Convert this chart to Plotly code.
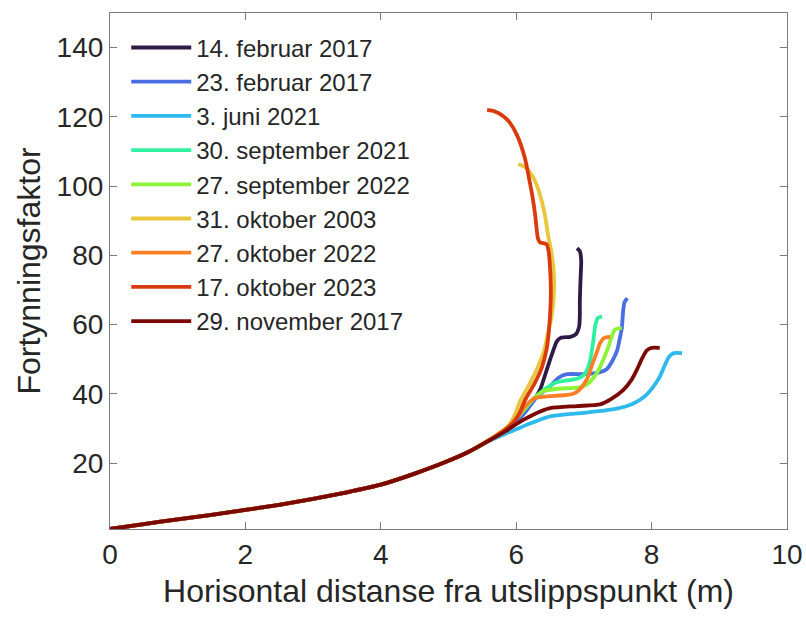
import plotly.graph_objects as go

# Shared near-field trunk of the dilution curves (x in m, dilution factor)
TRUNK_X = [0, 0.5, 1.0, 1.5, 2.0, 2.5, 3.0, 3.5, 4.0, 4.5, 5.0, 5.3]
TRUNK_Y = [1, 2.4, 3.8, 5.1, 6.5, 8.0, 9.7, 11.6, 13.8, 17.0, 20.7, 23.3]

LABELS = [
    "14. februar 2017",
    "23. februar 2017",
    "3. juni 2021",
    "30. september 2021",
    "27. september 2022",
    "31. oktober 2003",
    "27. oktober 2022",
    "17. oktober 2023",
    "29. november 2017",
]

COLORS = [
    "#2f1a48", "#4a6ee3", "#2fb9ec", "#2ff0a0", "#8df43a",
    "#eac63c", "#fa7f26", "#da3b0e", "#7a0805",
]

# Individual far-field branches for each date
FEB14_X = [5.55, 5.8, 6.06, 6.25, 6.35, 6.45, 6.55, 6.6, 6.66, 6.8, 6.88, 6.93, 6.94, 6.94, 6.95, 6.96, 6.94, 6.9]
FEB14_Y = [26, 29, 33.3, 38, 41.1, 46.9, 52.7, 55.2, 56.2, 56.5, 57.2, 59.5, 63, 67, 73, 78.5, 81.2, 82.1]

FEB23_X = [5.55, 5.8, 6.1, 6.3, 6.5, 6.62, 6.75, 7.0, 7.24, 7.34, 7.42, 7.49, 7.53, 7.56, 7.58, 7.6, 7.64]
FEB23_Y = [26, 29, 34, 39, 42.2, 44.6, 45.7, 45.7, 46.3, 47.2, 49.5, 52.5, 56, 59, 64, 66.5, 67.7]

JUN03_X = [5.55, 5.85, 6.0, 6.25, 6.5, 6.9, 7.3, 7.5, 7.68, 7.82, 7.93, 8.04, 8.12, 8.2, 8.26, 8.33, 8.45]
JUN03_Y = [26, 28.6, 29.8, 31.8, 33.5, 34.4, 35.2, 35.8, 36.8, 38.2, 39.9, 42.5, 44.9, 48.5, 50.8, 51.8, 51.8]

SEP30_X = [5.55, 5.8, 6.05, 6.25, 6.43, 6.6, 6.9, 7.0, 7.06, 7.1, 7.14, 7.17, 7.21, 7.27]
SEP30_Y = [26, 29, 34, 38.5, 41.5, 43.4, 44.4, 45.5, 47.5, 50.5, 55.5, 60, 62, 62.3]

SEP27_X = [5.55, 5.8, 6.05, 6.25, 6.4, 6.6, 6.94, 7.05, 7.13, 7.22, 7.29, 7.36, 7.41, 7.46, 7.56]
SEP27_Y = [26, 29, 34, 38.5, 40.8, 41.5, 41.9, 42.8, 44.4, 47, 50, 53.5, 56.5, 58.6, 59]

OCT31_X = [5.55, 5.75, 5.88, 5.98, 6.06, 6.2, 6.32, 6.42, 6.47, 6.52, 6.55, 6.56, 6.55, 6.52, 6.47, 6.43, 6.38, 6.31, 6.23, 6.13, 6.03]
OCT31_Y = [26.2, 28.8, 30.6, 34, 38, 43, 47.7, 53, 57.6, 62, 67, 72, 76.4, 81, 86, 91, 95.4, 100, 103.2, 105.5, 106.4]

OCT27_X = [5.55, 5.8, 6.0, 6.15, 6.28, 6.45, 6.75, 6.88, 6.97, 7.05, 7.13, 7.19, 7.24, 7.3, 7.39]
OCT27_Y = [26, 29, 33, 36.8, 38.8, 39.3, 39.7, 40.4, 42, 44.5, 48.9, 52, 54.7, 56.2, 56.5]

OCT17_X = [5.55, 5.75, 5.95, 6.05, 6.13, 6.27, 6.38, 6.45, 6.48, 6.51, 6.51, 6.5, 6.48, 6.45, 6.35, 6.32, 6.3, 6.28, 6.24, 6.2, 6.13, 6.01, 5.9, 5.81, 5.68, 5.57]
OCT17_Y = [26, 28.5, 31.5, 34.5, 38.2, 43, 47.7, 53, 57.6, 67, 72, 76.4, 81, 83.2, 83.8, 85, 88, 91.7, 97, 101.2, 108, 114.8, 118.5, 120.2, 121.6, 122]

NOV29_X = [5.55, 5.85, 6.0, 6.25, 6.5, 6.9, 7.24, 7.4, 7.58, 7.7, 7.78, 7.86, 7.93, 8.0, 8.12]
NOV29_Y = [26, 29.3, 31.3, 34, 35.9, 36.5, 37, 38.5, 41.1, 44, 46.9, 50.3, 52.6, 53.3, 53.3]

BRANCHES = [
    (FEB14_X, FEB14_Y), (FEB23_X, FEB23_Y), (JUN03_X, JUN03_Y),
    (SEP30_X, SEP30_Y), (SEP27_X, SEP27_Y), (OCT31_X, OCT31_Y),
    (OCT27_X, OCT27_Y), (OCT17_X, OCT17_Y), (NOV29_X, NOV29_Y),
]

X_TICKS = [0, 2, 4, 6, 8, 10]
Y_TICKS = [20, 40, 60, 80, 100, 120, 140]

FONT = "Liberation Sans, Arial, sans-serif"
AXIS_GREY = "#7a7a7a"
TEXT = "#262626"

fig = go.Figure()
for label, color, (bx, by) in zip(LABELS, COLORS, BRANCHES):
    fig.add_trace(go.Scatter(
        x=TRUNK_X + bx,
        y=TRUNK_Y + by,
        mode="lines",
        name=label,
        line=dict(color=color, width=3.8, shape="spline", smoothing=0.6),
    ))

axis_common = dict(
    showline=True, linecolor=AXIS_GREY, linewidth=1.2, mirror="ticks",
    ticks="inside", ticklen=7, tickcolor=AXIS_GREY, tickwidth=1,
    showgrid=False, zeroline=False, automargin=False,
    tickfont=dict(family=FONT, size=28, color=TEXT),
)

fig.update_layout(
    width=806, height=619,
    margin=dict(l=110, r=19, t=13, b=90),
    paper_bgcolor="white", plot_bgcolor="white",
    font=dict(family=FONT, color=TEXT),
    xaxis=dict(
        range=[0, 10], tickvals=X_TICKS,
        title=dict(text="Horisontal distanse fra utslippspunkt (m)",
                   font=dict(family=FONT, size=32, color=TEXT), standoff=10),
        **axis_common,
    ),
    yaxis=dict(
        range=[1, 150], tickvals=Y_TICKS,
        title=dict(text="Fortynningsfaktor",
                   font=dict(family=FONT, size=32, color=TEXT), standoff=6),
        **axis_common,
    ),
    legend=dict(
        x=0.024, y=0.976, xanchor="left", yanchor="top",
        bgcolor="rgba(0,0,0,0)", borderwidth=0,
        font=dict(family=FONT, size=24, color=TEXT),
        itemwidth=60, tracegroupgap=0,
    ),
)

fig.write_html("out.html")
